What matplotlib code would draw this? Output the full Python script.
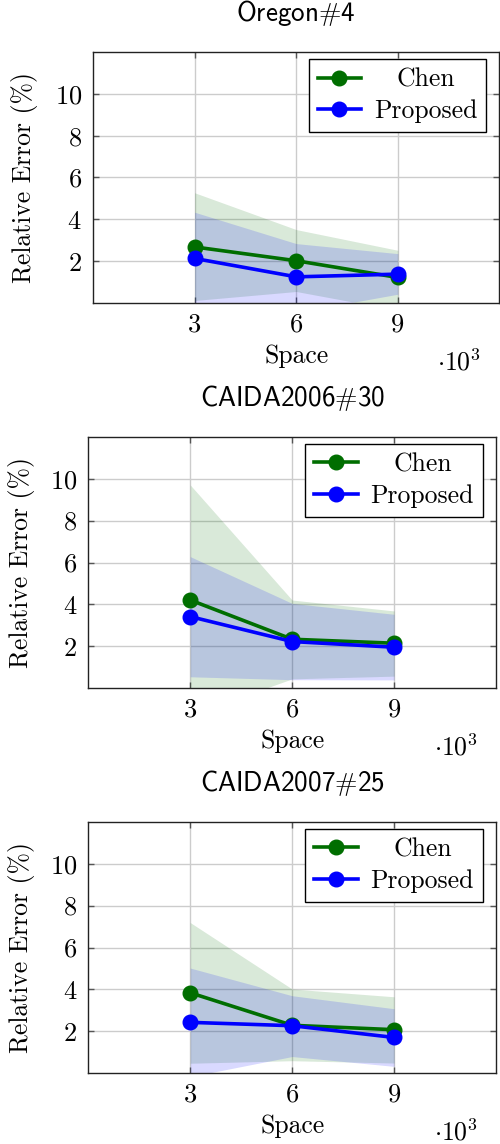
import matplotlib
matplotlib.use("Agg")
import matplotlib.pyplot as plt
from matplotlib.ticker import FixedLocator, FuncFormatter

plt.rcParams['mathtext.fontset'] = 'cm'
plt.rcParams['font.family'] = ['cmr10', 'DejaVu Serif']
plt.rcParams['axes.formatter.use_mathtext'] = True

# ---- data ----
space = [3000, 6000, 9000]
titles = ["Oregon#4", "CAIDA2006#30", "CAIDA2007#25"]

chen_mean = [[2.68, 2.02, 1.22], [4.21, 2.34, 2.15], [3.84, 2.29, 2.08]]
chen_low = [[0.12, 0.55, -0.35], [-1.28, 0.45, 0.58], [0.48, 0.60, 0.49]]
chen_up = [[5.27, 3.51, 2.52], [9.70, 4.21, 3.69], [7.19, 4.02, 3.65]]

prop_mean = [[2.13, 1.25, 1.38], [3.42, 2.23, 1.96], [2.43, 2.27, 1.71]]
prop_low = [[-0.10, -0.45, 0.42], [0.55, 0.41, 0.40], [-0.16, 0.80, 0.33]]
prop_up = [[4.34, 2.84, 2.36], [6.28, 4.05, 3.53], [5.02, 3.70, 3.08]]

xticks = [3000, 6000, 9000]
yticks = [2, 4, 6, 8, 10]

GREEN = '#006e00'
BLUE = '#0000ff'

W, H = 500, 1144
fig = plt.figure(figsize=(W / 100, H / 100), dpi=100)

# axes boxes in pixels: left, right, top, bottom
boxes = [(93, 499.5, 52, 303), (88.3, 496, 436.7, 688.3), (88.3, 496, 821.7, 1073.3)]

FS = 18.5
legends = []
for i, (l, r, t, b) in enumerate(boxes):
    ax = fig.add_axes([l / W, 1 - b / H, (r - l) / W, (b - t) / H])
    ax.fill_between(space, chen_low[i], chen_up[i], color=GREEN, alpha=0.15, lw=0)
    ax.fill_between(space, prop_low[i], prop_up[i], color=BLUE, alpha=0.15, lw=0)
    ax.plot(space, chen_mean[i], color=GREEN, lw=2.6, marker='o', ms=10.5, label='Chen')
    ax.plot(space, prop_mean[i], color=BLUE, lw=2.6, marker='o', ms=10.5, label='Proposed')
    ax.set_xlim(0, 12000)
    ax.set_ylim(0, 12)
    ax.xaxis.set_major_locator(FixedLocator(xticks))
    ax.yaxis.set_major_locator(FixedLocator(yticks))
    ax.xaxis.set_major_formatter(FuncFormatter(lambda v, p: f"{v / 1000:g}"))
    ax.grid(True, color='#cccccc', lw=1.0)
    ax.set_axisbelow(True)
    ax.tick_params(direction='in', length=4, width=1, color='#555555',
                   top=True, right=True, labelsize=19)
    ax.tick_params(axis='x', pad=7)
    ax.tick_params(axis='y', pad=8)
    for s in ax.spines.values():
        s.set_color('#222222')
        s.set_linewidth(1.0)
    ax.set_xlabel('Space', fontsize=FS, va='center')
    ax.xaxis.set_label_coords(0.5, -53 / (b - t))
    ax.set_ylabel('Relative Error (%)', fontsize=FS, va='center')
    ax.yaxis.set_label_coords((25 - l + (0 if i == 0 else -3.3)) / (r - l), 0.5)
    ax.text(1 - 40 / (r - l), -59 / (b - t), r'$\cdot 10^{3}$', transform=ax.transAxes,
            ha='center', va='center', fontsize=FS)
    ax.text(0.5, 1 + 38.5 / (b - t), titles[i].replace('#', r'$\#$'), transform=ax.transAxes,
            ha='center', va='center', fontsize=19.5, family=['cmss10', 'DejaVu Sans'])
    leg = ax.legend(loc='upper right', bbox_to_anchor=(1 - 13 / (r - l), 1 - 7 / (b - t)),
                    borderaxespad=0, fancybox=False, framealpha=1, edgecolor='black',
                    fontsize=FS, handlelength=1.7, labelspacing=0.3, borderpad=0.35,
                    handletextpad=0.5)
    leg.get_frame().set_linewidth(1.0)
    legends.append(leg)

fig.canvas.draw()
for leg in legends:
    texts = leg.get_texts()
    ws = [t.get_window_extent().width for t in texts]
    mw = max(ws)
    for t, w in zip(texts, ws):
        t.set_position(((mw - w) / 2, 0))

fig.savefig('out.png', dpi=100)
